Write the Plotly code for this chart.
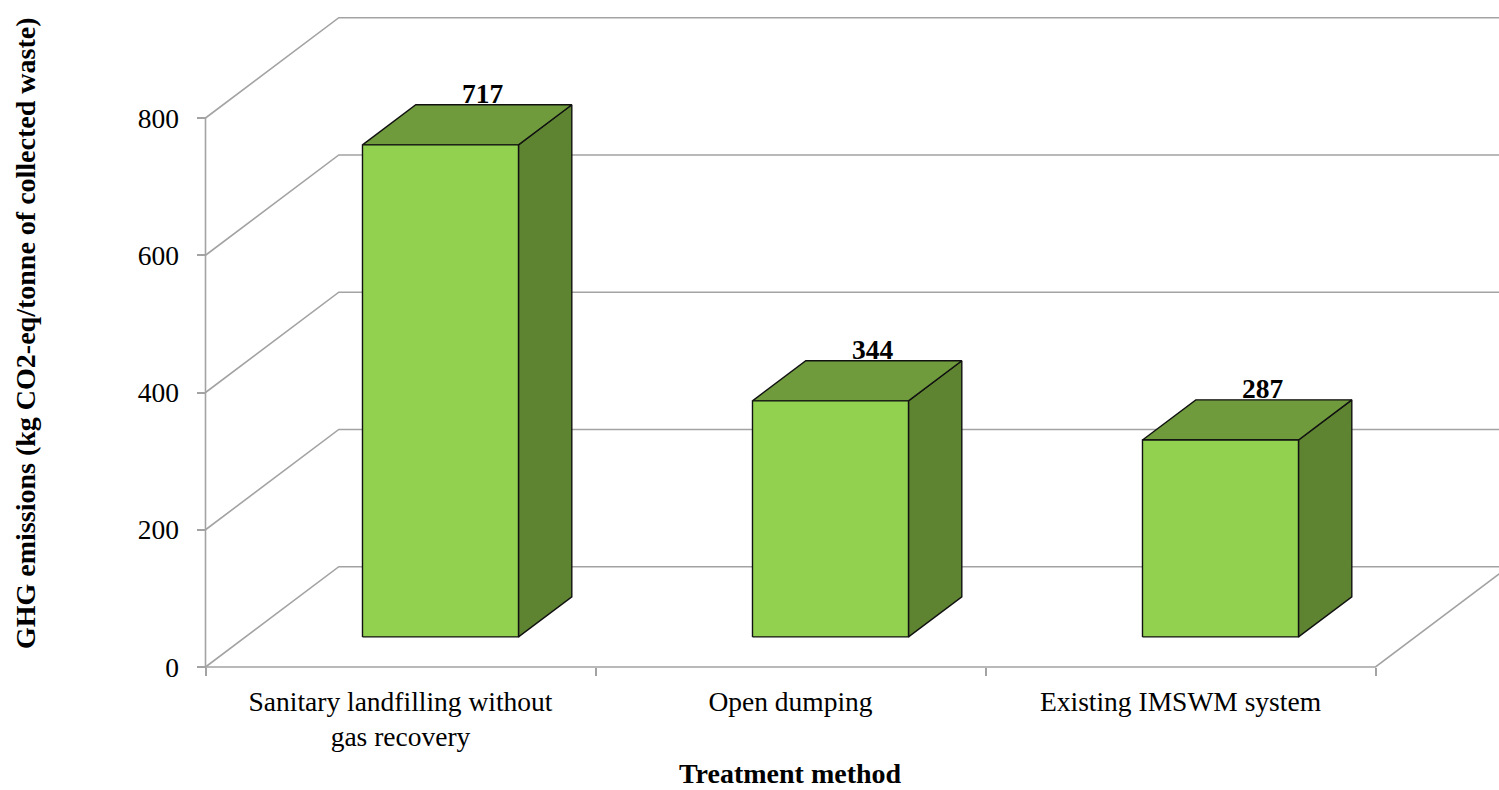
import plotly.graph_objects as go

# ---- data ----
categories = ["Sanitary landfilling without<br>gas recovery", "Open dumping", "Existing IMSWM system"]
emissions = [717, 344, 287]
y_ticks = [0, 200, 400, 600, 800]

# ---- page / projection geometry (pixels) ----
W, H = 1499, 790
MARGIN_L, MARGIN_B = 150, 100
CAT_PX = 390.0                 # pixels per category on the front plane
PX_PER_UNIT = 137.25 / 200     # pixels per kg CO2-eq
ORIGIN_X, ORIGIN_Y = 205.5, 667.0   # front-plane corner (x=-0.5, y=0)
DEPTH_X_PX, DEPTH_Y_PX = 133.3, 100.3  # full depth of the box
BAR_W = 0.4                    # bar width in category units
BAR_Z0, BAR_Z1 = 0.3, 0.7      # bar depth span (fraction of box depth)

PLOT_H = H - MARGIN_B
x_lo = -0.5 - (ORIGIN_X - MARGIN_L) / CAT_PX
x_hi = -0.5 + (W - ORIGIN_X) / CAT_PX
y_lo = -(PLOT_H - ORIGIN_Y) / PX_PER_UNIT
y_hi = ORIGIN_Y / PX_PER_UNIT
DX = DEPTH_X_PX / CAT_PX
DY = DEPTH_Y_PX / PX_PER_UNIT

GRID = "#A3A3A3"
FRONT, TOP, SIDE = "#92D050", "#6F9B3C", "#5E8431"
FONT = "Liberation Serif"
FS = 27.5
FS_TITLE = 28

fig = go.Figure()

# walls: left-wall diagonals + back-wall gridlines
gx, gy = [], []
for t in y_ticks:
    gx += [-0.5, -0.5 + DX, x_hi, None]
    gy += [t, t + DY, t + DY, None]
# front floor edge, right floor diagonal, front vertical axis
n = len(categories)
gx += [-0.5, n - 0.5, n - 0.5 + DX, None, -0.5, -0.5]
gy += [0, 0, DY, None, 0, y_ticks[-1]]
fig.add_trace(go.Scatter(x=gx, y=gy, mode="lines",
                         line=dict(color=GRID, width=1.6),
                         hoverinfo="skip", showlegend=False))

# 3D bars
edge = dict(color="#111111", width=1.4)
for i, v in enumerate(emissions):
    xl, xr = i - BAR_W / 2, i + BAR_W / 2
    fx0, fy0 = BAR_Z0 * DX, BAR_Z0 * DY
    bx0, by0 = BAR_Z1 * DX, BAR_Z1 * DY
    # side face
    fig.add_trace(go.Scatter(
        x=[xr + fx0, xr + bx0, xr + bx0, xr + fx0, xr + fx0],
        y=[fy0 + v, by0 + v, by0, fy0, fy0 + v],
        mode="lines", fill="toself", fillcolor=SIDE, line=edge,
        hoverinfo="skip", showlegend=False))
    # top face
    fig.add_trace(go.Scatter(
        x=[xl + fx0, xr + fx0, xr + bx0, xl + bx0, xl + fx0],
        y=[fy0 + v, fy0 + v, by0 + v, by0 + v, fy0 + v],
        mode="lines", fill="toself", fillcolor=TOP, line=edge,
        hoverinfo="skip", showlegend=False))
    # front face
    fig.add_trace(go.Scatter(
        x=[xl + fx0, xr + fx0, xr + fx0, xl + fx0, xl + fx0],
        y=[fy0, fy0, fy0 + v, fy0 + v, fy0],
        mode="lines", fill="toself", fillcolor=FRONT, line=edge,
        hoverinfo="skip", showlegend=False))
    # value label above the top face
    fig.add_annotation(x=i + BAR_Z1 * DX, y=v + BAR_Z1 * DY, xref="x", yref="y",
                       text=f"<b>{v}</b>", showarrow=False,
                       xanchor="center", yanchor="middle", xshift=-11, yshift=11,
                       font=dict(family=FONT, size=FS, color="black"))

# axis titles
fig.add_annotation(x=0, y=(PLOT_H - 333) / PLOT_H, xref="paper", yref="paper",
                   text="<b>GHG emissions (kg CO2-eq/tonne of collected waste)</b>",
                   textangle=-90, showarrow=False, xanchor="center", yanchor="middle",
                   xshift=25 - MARGIN_L,
                   font=dict(family=FONT, size=FS_TITLE, color="black"))
fig.add_annotation(x=1, y=(PLOT_H - 773) / PLOT_H, xref="x", yref="paper",
                   text="<b>Treatment method</b>", showarrow=False,
                   xanchor="center", yanchor="middle",
                   font=dict(family=FONT, size=FS_TITLE, color="black"))

fig.update_layout(
    width=W, height=H,
    margin=dict(l=MARGIN_L, r=0, t=0, b=MARGIN_B, pad=0),
    paper_bgcolor="white", plot_bgcolor="white",
    showlegend=False,
    font=dict(family=FONT, size=FS, color="black"),
    xaxis=dict(range=[x_lo, x_hi], tickmode="array",
               tickvals=list(range(n)), ticktext=categories,
               ticks="", showgrid=False, zeroline=False, showline=False,
               anchor="free", position=(PLOT_H - ORIGIN_Y) / PLOT_H,
               automargin=False, ticklabelstandoff=15,
               tickfont=dict(family=FONT, size=FS, color="black"),
               minor=dict(tickmode="array", tickvals=[k - 0.5 for k in range(n + 1)],
                          ticks="outside", ticklen=8, tickwidth=1.6,
                          tickcolor=GRID, showgrid=False)),
    yaxis=dict(range=[y_lo, y_hi], tickmode="array", tickvals=y_ticks,
               ticks="outside", ticklen=9, tickwidth=1.6, tickcolor=GRID,
               showgrid=False, zeroline=False, showline=False,
               anchor="free", position=(ORIGIN_X - MARGIN_L) / (W - MARGIN_L),
               automargin=False, ticklabelstandoff=12,
               tickfont=dict(family=FONT, size=FS, color="black")),
)

fig.write_html("out.html")
